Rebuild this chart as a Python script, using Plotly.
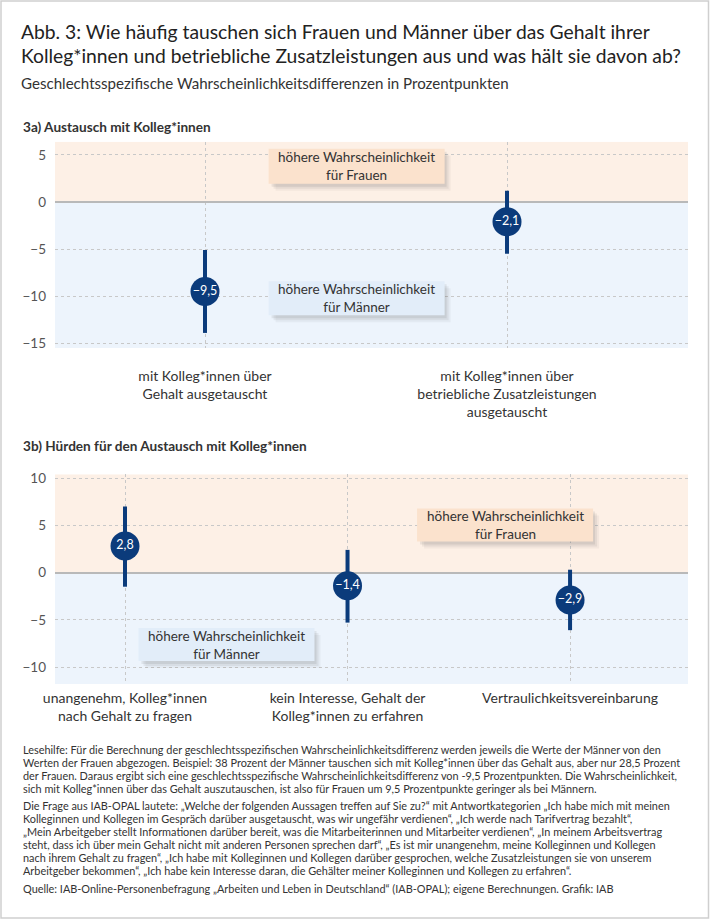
import plotly.graph_objects as go

# ---------------- data ----------------
cats_a = ["mit Kolleg*innen über<br>Gehalt ausgetauscht",
          "mit Kolleg*innen über<br>betriebliche Zusatzleistungen<br>ausgetauscht"]
vals_a = [-9.5, -2.1]
lo_a = [-13.9, -5.5]
hi_a = [-5.1, 1.2]

cats_b = ["unangenehm, Kolleg*innen<br>nach Gehalt zu fragen",
          "kein Interesse, Gehalt der<br>Kolleg*innen zu erfahren",
          "Vertraulichkeitsvereinbarung"]
vals_b = [2.8, -1.4, -2.9]
lo_b = [-1.5, -5.3, -6.1]
hi_b = [7.0, 2.4, 0.3]

yticks_a = [5, 0, -5, -10, -15]
yticks_b = [10, 5, 0, -5, -10]

title_lines = ["Abb. 3: Wie häufig tauschen sich Frauen und Männer über das Gehalt ihrer",
               "Kolleg*innen und betriebliche Zusatzleistungen aus und was hält sie davon ab?"]
subtitle = "Geschlechtsspezifische Wahrscheinlichkeitsdifferenzen in Prozentpunkten"
head_a = "3a) Austausch mit Kolleg*innen"
head_b = "3b) Hürden für den Austausch mit Kolleg*innen"
label_f = "höhere Wahrscheinlichkeit<br>für Frauen"
label_m = "höhere Wahrscheinlichkeit<br>für Männer"

foot_lines = [
    "Lesehilfe: Für die Berechnung der geschlechtsspezifischen Wahrscheinlichkeitsdifferenz werden jeweils die Werte der Männer von den",
    "Werten der Frauen abgezogen. Beispiel: 38 Prozent der Männer tauschen sich mit Kolleg*innen über das Gehalt aus, aber nur 28,5 Prozent",
    "der Frauen. Daraus ergibt sich eine geschlechtsspezifische Wahrscheinlichkeitsdifferenz von -9,5 Prozentpunkten. Die Wahrscheinlichkeit,",
    "sich mit Kolleg*innen über das Gehalt auszutauschen, ist also für Frauen um 9,5 Prozentpunkte geringer als bei Männern.",
    "Die Frage aus IAB-OPAL lautete: „Welche der folgenden Aussagen treffen auf Sie zu?“ mit Antwortkategorien „Ich habe mich mit meinen",
    "Kolleginnen und Kollegen im Gespräch darüber ausgetauscht, was wir ungefähr verdienen“, „Ich werde nach Tarifvertrag bezahlt“,",
    "„Mein Arbeitgeber stellt Informationen darüber bereit, was die Mitarbeiterinnen und Mitarbeiter verdienen“, „In meinem Arbeitsvertrag",
    "steht, dass ich über mein Gehalt nicht mit anderen Personen sprechen darf“, „Es ist mir unangenehm, meine Kolleginnen und Kollegen",
    "nach ihrem Gehalt zu fragen“, „Ich habe mit Kolleginnen und Kollegen darüber gesprochen, welche Zusatzleistungen sie von unserem",
    "Arbeitgeber bekommen“, „Ich habe kein Interesse daran, die Gehälter meiner Kolleginnen und Kollegen zu erfahren“.",
    "Quelle: IAB-Online-Personenbefragung „Arbeiten und Leben in Deutschland“ (IAB-OPAL); eigene Berechnungen. Grafik: IAB",
]

# ---------------- style / layout ----------------
W, H = 710, 923
FONT = "Lato"
NAVY = "#0b3b7b"
BAND_F = "#fdf0e6"
BAND_M = "#edf4fc"
BOX_F = "#fbe2cd"
BOX_M = "#e2edf9"
GRID = "#c8c8c8"
FOOT_Y = [749, 762, 775, 788, 805.5, 818.5, 831.5, 844.5, 857.5, 870.5, 888]


def py(p):
    return 1 - p / H


def px(p):
    return p / W


def fmt(v):
    return f"{v:.1f}".replace(".", ",").replace("-", "\u2212")


fig = go.Figure()

for cats, vals, lo, hi, xa, ya in [(cats_a, vals_a, lo_a, hi_a, "x", "y"),
                                   (cats_b, vals_b, lo_b, hi_b, "x2", "y2")]:
    fig.add_trace(go.Scatter(
        x=cats, y=vals, xaxis=xa, yaxis=ya,
        mode="markers+text",
        marker=dict(size=29, color=NAVY, line=dict(width=0)),
        text=[fmt(v) for v in vals],
        textposition="middle center",
        textfont=dict(family=FONT, size=12.5, color="white"),
        error_y=dict(type="data", symmetric=False,
                     array=[h - v for h, v in zip(hi, vals)],
                     arrayminus=[v - l for v, l in zip(vals, lo)],
                     thickness=4, width=0, color=NAVY),
        cliponaxis=False, showlegend=False, hoverinfo="skip",
    ))

xdom = [px(55), px(688)]
common_x = dict(type="category", domain=xdom, showgrid=True, gridcolor=GRID,
                griddash="dot", gridwidth=1, zeroline=False, showline=False,
                ticks="", automargin=False,
                tickfont=dict(family=FONT, size=14, color="#333"))
common_y = dict(showgrid=True, gridcolor=GRID, griddash="dot", gridwidth=1,
                zeroline=True, zerolinecolor="#b9b9b9", zerolinewidth=1.5,
                showline=False, ticks="", ticklabelstandoff=8, automargin=False,
                tickfont=dict(family=FONT, size=13.5, color="#555"))

fig.update_layout(
    width=W, height=H, autosize=False,
    margin=dict(l=0, r=0, t=0, b=0, pad=0, autoexpand=False),
    paper_bgcolor="white", plot_bgcolor="white",
    font=dict(family=FONT, color="#333"),
    xaxis=dict(common_x, anchor="y", range=[-0.4967, 1.5993], ticklabelstandoff=18),
    yaxis=dict(common_y, anchor="x", domain=[py(348), py(141.7)], range=[-15.5, 6.4],
               tickvals=yticks_a),
    xaxis2=dict(common_x, anchor="y2", range=[-0.3146, 2.530], ticklabelstandoff=4),
    yaxis2=dict(common_y, anchor="x2", domain=[py(684), py(474.3)], range=[-11.8, 10.4],
                tickvals=yticks_b),
)

shapes = []
for yr, top, bot in [("y", 6.4, -15.5), ("y2", 10.4, -11.8)]:
    xr = "x domain" if yr == "y" else "x2 domain"
    shapes.append(dict(type="rect", xref=xr, yref=yr, x0=0, x1=1, y0=0, y1=top,
                       fillcolor=BAND_F, line=dict(width=0), layer="below"))
    shapes.append(dict(type="rect", xref=xr, yref=yr, x0=0, x1=1, y0=bot, y1=0,
                       fillcolor=BAND_M, line=dict(width=0), layer="below"))

# label boxes: (xref, yref, x anchor (category index), y anchor, half width, half height, text, colour)
boxes = [("x", "y", 0.502, 3.79, 88, 17.5, label_f, BOX_F),
         ("x", "y", 0.502, -10.22, 88, 17, label_m, BOX_M),
         ("x2", "y2", 1.708, 5.02, 88, 16.5, label_f, BOX_F),
         ("x2", "y2", 0.456, -7.62, 88, 16.5, label_m, BOX_M)]
annotations = []
for xr, yr, xa, ya, hw, hh, txt, col in boxes:
    for off, alpha in [(7, 0.05), (5, 0.07), (3, 0.09)]:
        shapes.append(dict(type="rect", xref=xr, yref=yr, xsizemode="pixel", ysizemode="pixel",
                           xanchor=xa, yanchor=ya, x0=-hw + off, x1=hw + off - 1,
                           y0=-hh - off, y1=hh - off,
                           fillcolor=f"rgba(60,60,60,{alpha})", line=dict(width=0)))
    shapes.append(dict(type="rect", xref=xr, yref=yr, xsizemode="pixel", ysizemode="pixel",
                       xanchor=xa, yanchor=ya, x0=-hw, x1=hw, y0=-hh, y1=hh,
                       fillcolor=col, line=dict(width=0)))
    annotations.append(dict(xref=xr, yref=yr, x=xa, y=ya, text=txt, showarrow=False,
                            xanchor="center", yanchor="middle", align="center",
                            borderpad=0, font=dict(family=FONT, size=13.5, color="#333")))

shapes.append(dict(type="rect", xref="paper", yref="paper", x0=px(1), x1=px(708.5),
                   y0=py(918), y1=py(1), line=dict(color="#cfcfcf", width=1.5)))

for txt, yc in zip(title_lines, [31.7, 56]):
    annotations.append(dict(xref="paper", yref="paper", x=px(19), y=py(yc), text=txt,
                            showarrow=False, xanchor="left", yanchor="middle",
                            font=dict(family=FONT, size=19.3, color="#222")))
annotations.append(dict(xref="paper", yref="paper", x=px(19), y=py(83.3), text=subtitle,
                        showarrow=False, xanchor="left", yanchor="middle",
                        font=dict(family=FONT, size=15.1, color="#333")))
for txt, yc in [(head_a, 126.7), (head_b, 446)]:
    annotations.append(dict(xref="paper", yref="paper", x=px(21), y=py(yc), text=f"<b>{txt}</b>",
                            showarrow=False, xanchor="left", yanchor="middle",
                            font=dict(family=FONT, size=13.6, color="#333")))

for txt, yc in zip(foot_lines, FOOT_Y):
    annotations.append(dict(xref="paper", yref="paper", x=px(21), y=py(yc), text=txt,
                            showarrow=False, xanchor="left", yanchor="middle",
                            font=dict(family=FONT, size=10.9, color="#333")))

fig.update_layout(shapes=shapes, annotations=annotations)
fig.write_html("out.html", config={"displayModeBar": False},
               post_script="document.body.style.margin='0';document.body.style.overflow='hidden';")
